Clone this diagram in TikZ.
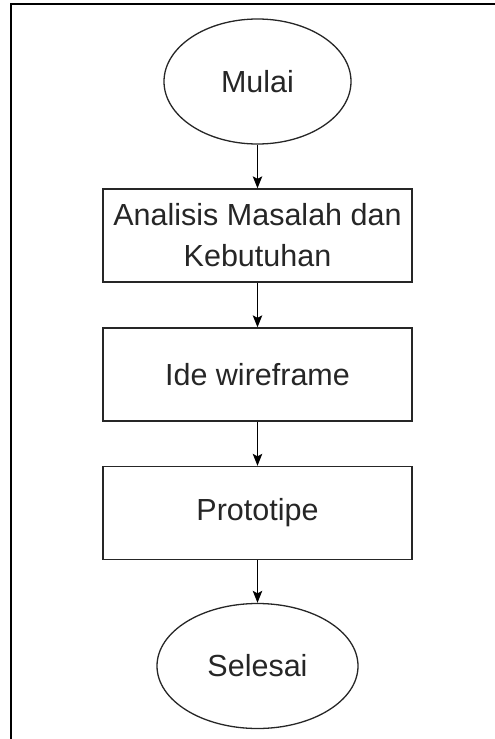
\documentclass[tikz,border=0pt]{standalone}
\usepackage{fontspec}
\setmainfont{Liberation Sans}
\usetikzlibrary{shapes.geometric,arrows.meta}
\begin{document}
\begin{tikzpicture}[x=1pt,y=-1pt,
  every node/.style={font=\fontsize{30.5}{41}\selectfont, text=black!85, align=center, inner sep=0pt},
  terminal/.style={draw=black!85, line width=1.3pt, ellipse, minimum width=#1, minimum height=125pt},
  procbox/.style={draw=black!85, line width=1.3pt, rectangle, minimum width=309pt, minimum height=93pt},
  flow/.style={draw=black, line width=1.3pt, -{Stealth[length=12pt,width=9.5pt,inset=2.5pt]}},
  frame/.style={draw=black, line width=2pt}]
\useasboundingbox (0,0) rectangle (495,739);
\draw[frame] (11,745) -- (11,4) -- (500,4);
\node[terminal=187pt] (start) at (257.5,81.5) {Mulai};
\node[procbox] (analisis) at (257.5,235.5) {Analisis Masalah dan\\Kebutuhan};
\node[procbox] (ide) at (257.5,374.5) {Ide wireframe};
\node[procbox] (proto) at (257.5,513) {Prototipe};
\node[terminal=201pt] (end) at (257.5,666) {Selesai};
\draw[flow] (start) -- (analisis);
\draw[flow] (analisis) -- (ide);
\draw[flow] (ide) -- (proto);
\draw[flow] (proto) -- (end);
\end{tikzpicture}
\end{document}
